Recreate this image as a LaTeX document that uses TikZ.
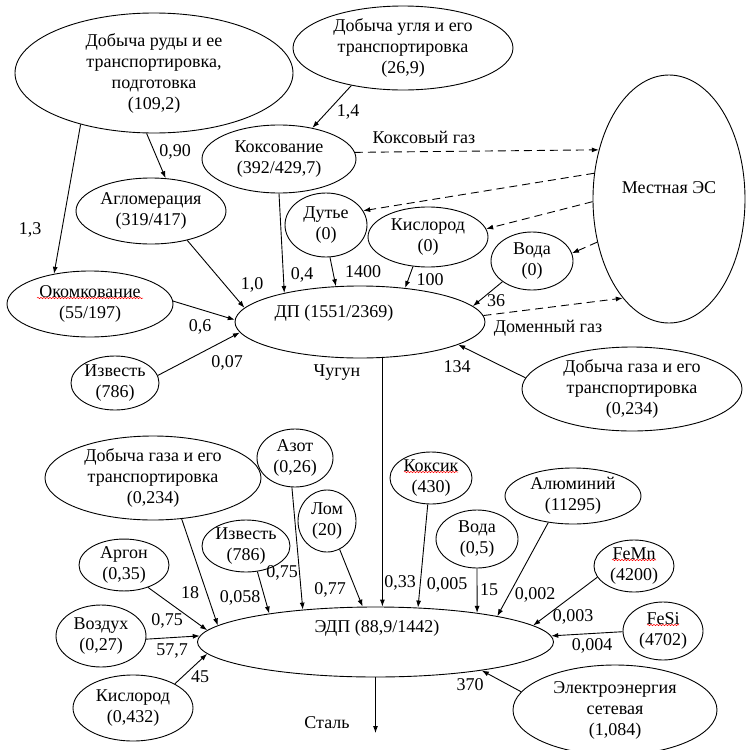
\documentclass[tikz,border=0pt]{standalone}
\usepackage{fontspec}
\setmainfont{Liberation Serif}
\usetikzlibrary{shapes.geometric,arrows.meta,decorations.pathmorphing}

\tikzset{
  every node/.style={font=\fontsize{18}{21}\selectfont},
  ell/.style={draw, ellipse, inner sep=0pt, align=center, line width=0.9pt},
  lbl/.style={inner sep=1pt},
  arr/.style={-{Latex[length=7pt,width=5pt]}, line width=0.9pt},
  darr/.style={arr, dash pattern=on 8pt off 5pt},
  spell/.style={red, line width=0.5pt, decorate,
    decoration={snake, amplitude=0.7pt, segment length=3pt}}
}

\begin{document}
\begin{tikzpicture}[x=1pt,y=-1pt]
  \useasboundingbox (0,0) rectangle (749,750);
  \fill[white] (0,0) rectangle (749,750);

  % Upper part: blast furnace
  \node[ell, minimum width=278pt, minimum height=120pt] (ore) at (154,73)
    {Добыча руды и ее\\транспортировка,\\подготовка\\(109,2)};
  \node[ell, minimum width=220pt, minimum height=84pt] (coal) at (403,48)
    {Добыча угля и его\\транспортировка\\(26,9)};
  \node[ell, minimum width=154pt, minimum height=68pt] (koks) at (279,159)
    {Коксование\\(392/429,7)};
  \node[ell, minimum width=150pt, minimum height=66pt] (aglo) at (151,211)
    {Агломерация\\(319/417)};
  \node[ell, minimum width=166pt, minimum height=66pt] (okom) at (90,304)
    {Окомкование\\(55/197)};
  \node[ell, minimum width=88pt, minimum height=54pt] (izv1) at (115,383)
    {Известь\\(786)};
  \node[ell, minimum width=82pt, minimum height=64pt] (dutye) at (326,225)
    {Дутье\\(0)};
  \node[ell, minimum width=120pt, minimum height=60pt] (kisl1) at (428,237)
    {Кислород\\(0)};
  \node[ell, minimum width=82pt, minimum height=58pt] (voda1) at (532,261)
    {Вода\\(0)};
  \node[ell, minimum width=250pt, minimum height=72pt] (dp) at (360,322) {};
  \node[lbl] (dptxt) at (334,313) {ДП (1551/2369)};
  \node[ell, minimum width=152pt, minimum height=248pt] (mes) at (669,199) {};
  \node[lbl] (mestxt) at (669,188) {Местная ЭС};
  \node[ell, minimum width=220pt, minimum height=84pt] (gas1) at (632,389)
    {Добыча газа и его\\транспортировка\\(0,234)};

  \draw[arr] (coal.216) -- (koks.43);
  \draw[arr] (ore.263) -- (aglo.66);
  \draw[arr] (ore.215) -- (okom.140);
  \draw[arr] (aglo.321) -- (dp.173);
  \draw[arr] (okom.2) -- (dp.179);
  \draw[arr] (izv1.10) -- (dp.185);
  \draw[arr] (koks.270) -- (dp.159);
  \draw[arr] (dutye.277) -- (dp.124);
  \draw[arr] (kisl1.243) -- (dp.37);
  \draw[arr] (voda1.215) -- (dp.8);
  \draw[arr] (gas1.174) -- (dp.347);
  \draw[darr] (koks.5) -- (mes.145);
  \draw[darr] (mes.161) -- (dutye.21);
  \draw[darr] (mes.182) -- (kisl1.8);
  \draw[darr] (mes.211) -- (voda1.11);
  \draw[darr] (dp.3) -- (mes.245);

  \node[lbl] (l14) at (348,112) {1,4};
  \node[lbl] (l090) at (175,152) {0,90};
  \node[lbl] (l13) at (30,230) {1,3};
  \node[lbl] (lkg) at (424,137) {Коксовый газ};
  \node[lbl] (l10) at (252,285) {1,0};
  \node[lbl] (l04) at (302,275) {0,4};
  \node[lbl] (l1400) at (363,272) {1400};
  \node[lbl] (l100) at (430,280) {100};
  \node[lbl] (l36) at (496,301) {36};
  \node[lbl] (l06) at (200,327) {0,6};
  \node[lbl] (l007) at (227,363) {0,07};
  \node[lbl] (lcug) at (337,373) {Чугун};
  \node[lbl] (ldg) at (548,328) {Доменный газ};
  \node[lbl] (l134) at (457,367) {134};

  % Lower part: electric furnace
  \node[ell, minimum width=356pt, minimum height=70pt] (edp) at (375.5,642) {};
  \node[lbl] (edptxt) at (377,628) {ЭДП (88,9/1442)};
  \node[ell, minimum width=216pt, minimum height=84pt] (gas2) at (153,478)
    {Добыча газа и его\\транспортировка\\(0,234)};
  \node[ell, minimum width=76pt, minimum height=58pt] (azot) at (295,458)
    {Азот\\(0,26)};
  \node[ell, minimum width=88pt, minimum height=52pt] (izv2) at (246,546)
    {Известь\\(786)};
  \node[ell, minimum width=58pt, minimum height=62pt] (lom) at (327,521)
    {Лом\\(20)};
  \node[ell, minimum width=82pt, minimum height=52pt] (koksik) at (431,478)
    {Коксик\\(430)};
  \node[ell, minimum width=82pt, minimum height=58pt] (voda2) at (477,539)
    {Вода\\(0,5)};
  \node[ell, minimum width=136pt, minimum height=56pt] (alum) at (573,496)
    {Алюминий\\(11295)};
  \node[ell, minimum width=80pt, minimum height=52pt] (femn) at (634,566)
    {FeMn\\(4200)};
  \node[ell, minimum width=80pt, minimum height=58pt] (fesi) at (663,631)
    {FeSi\\(4702)};
  \node[ell, minimum width=90pt, minimum height=50pt] (argon) at (124,565)
    {Аргон\\(0,35)};
  \node[ell, minimum width=90pt, minimum height=62pt] (vozd) at (101,636)
    {Воздух\\(0,27)};
  \node[ell, minimum width=120pt, minimum height=66pt] (kisl2) at (133,708)
    {Кислород\\(0,432)};
  \node[ell, minimum width=204pt, minimum height=90pt] (elek) at (615,710)
    {Электроэнергия\\сетевая\\(1,084)};
  \coordinate (stalend) at (375.5,733);

  \draw[arr] (dp.302) -- (dp.302 |- edp.north);
  \draw[arr] (gas2.305) -- (edp.174);
  \draw[arr] (argon.317) -- (edp.176);
  \draw[arr] (vozd.356) -- (edp.178);
  \draw[arr] (kisl2.30) -- (edp.184);
  \draw[arr] (izv2.294) -- (edp.165);
  \draw[arr] (azot.264) -- (edp.156);
  \draw[arr] (lom.294) -- (edp.110);
  \draw[arr] (koksik.263) -- (edp.39);
  \draw[arr] (voda2.270) -- (edp.16);
  \draw[arr] (alum.227) -- (edp.12);
  \draw[arr] (femn.197) -- (edp.6);
  \draw[arr] (fesi.181) -- (edp.2);
  \draw[arr] (elek.169) -- (edp.345);
  \draw[arr] (edp.south) -- (stalend);

  \node[lbl] (l18) at (190,593) {18};
  \node[lbl] (l075a) at (167,621) {0,75};
  \node[lbl] (l577) at (172,651) {57,7};
  \node[lbl] (l45) at (200,677) {45};
  \node[lbl] (l058) at (240,598) {0,058};
  \node[lbl] (l075b) at (282,573) {0,75};
  \node[lbl] (l077) at (330,590) {0,77};
  \node[lbl] (l033) at (400,583) {0,33};
  \node[lbl] (l0005) at (447,585) {0,005};
  \node[lbl] (l15) at (489,590) {15};
  \node[lbl] (l0002) at (535,595) {0,002};
  \node[lbl] (l0003) at (573,617) {0,003};
  \node[lbl] (l0004) at (592,646) {0,004};
  \node[lbl] (l370) at (470,685) {370};
  \node[lbl] (stal) at (327,723) {Сталь};

  % spell checker marks
  \draw[spell] ([shift={(-53,-6)}]okom.center) -- ++(106,0);
  \draw[spell] ([shift={(-27,-6)}]koksik.center) -- ++(54,0);
  \draw[spell] ([shift={(-22,-6)}]femn.center) -- ++(44,0);
  \draw[spell] ([shift={(-16,-6)}]fesi.center) -- ++(32,0);
\end{tikzpicture}
\end{document}
